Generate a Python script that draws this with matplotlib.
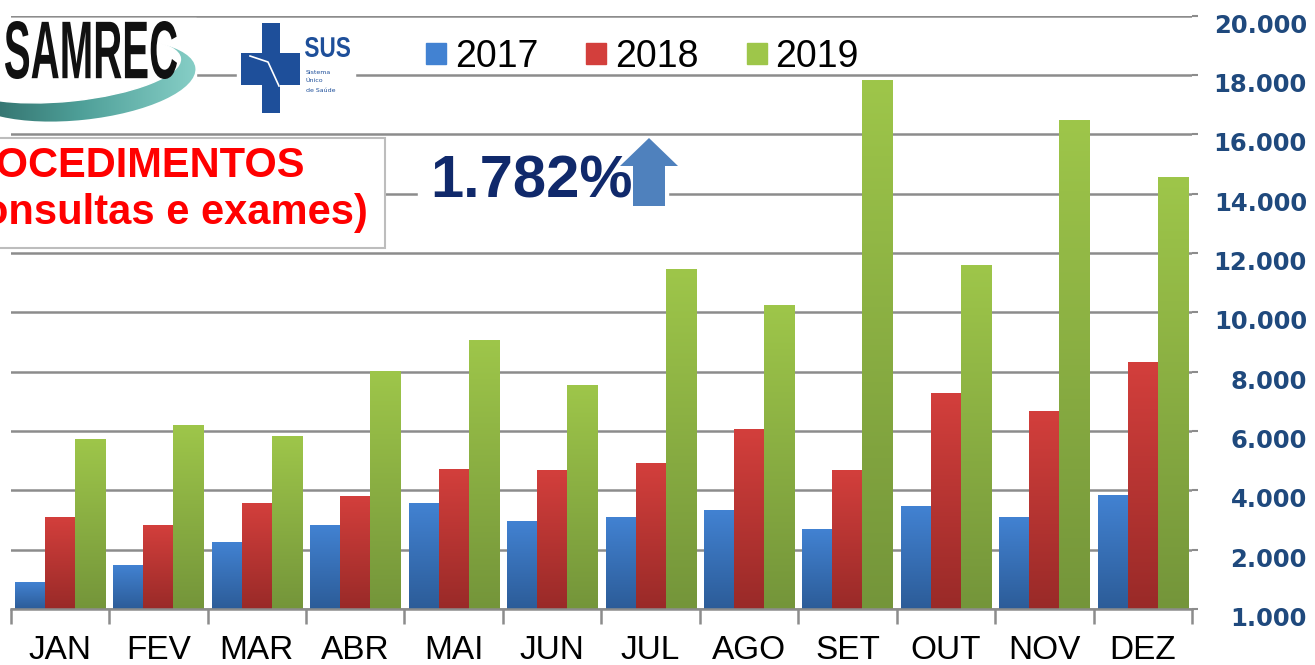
import numpy as np
import matplotlib.pyplot as plt
from matplotlib.colors import LinearSegmentedColormap
from matplotlib.patches import Rectangle, Polygon, Ellipse, PathPatch
from matplotlib.textpath import TextPath
from matplotlib.font_manager import FontProperties
from matplotlib.transforms import Affine2D, ScaledTranslation, blended_transform_factory

meses = ["JAN", "FEV", "MAR", "ABR", "MAI", "JUN", "JUL", "AGO", "SET", "OUT", "NOV", "DEZ"]
anos = ["2017", "2018", "2019"]
v2017 = [900, 1460, 2250, 2800, 3540, 2940, 3080, 3310, 2670, 3450, 3080, 3810]
v2018 = [3080, 2800, 3540, 3780, 4710, 4660, 4890, 6050, 4660, 7260, 6650, 8320]
v2019 = [5720, 6200, 5830, 7990, 9040, 7540, 11430, 10230, 17810, 11580, 16460, 14550]
y_ticks = [0, 2000, 4000, 6000, 8000, 10000, 12000, 14000, 16000, 18000, 20000]
y_labels = ["1.000", "2.000", "4.000", "6.000", "8.000", "10.000",
            "12.000", "14.000", "16.000", "18.000", "20.000"]

# cores (topo, base) do degradê de cada série
cores = [("#4282D2", "#2C5C98"), ("#D33F3C", "#992A28"), ("#9EC64A", "#74953A")]

W, H = 1315, 665
fig = plt.figure(figsize=(W / 100, H / 100), dpi=100)
ax = fig.add_axes([10.7 / W, 56 / H, 1181.3 / W, 593.3 / H])

x = np.arange(len(meses))
larg = 0.305
for k, serie in enumerate([v2017, v2018, v2019]):
    bars = ax.bar(x + (k - 1) * larg, serie, larg, color="none", zorder=2)
    cmap = LinearSegmentedColormap.from_list("g%d" % k, [cores[k][1], cores[k][0]])
    grad = np.linspace(0, 1, 256).reshape(-1, 1)
    for b in bars:
        x0, w, h = b.get_x(), b.get_width(), b.get_height()
        ax.imshow(grad, extent=[x0, x0 + w, 0, h], origin="lower", cmap=cmap,
                  aspect="auto", zorder=2)

ax.set_xlim(-0.5, 11.5)
ax.set_ylim(0, 20000)
ax.set_yticks(y_ticks)
ax.grid(axis="y", color="#8C8C8C", lw=1.8)
ax.set_axisbelow(True)
for s in ["top", "left", "right"]:
    ax.spines[s].set_visible(False)
ax.spines["bottom"].set_color("#8C8C8C")
ax.spines["bottom"].set_linewidth(1.8)
ax.tick_params(axis="y", left=False, right=True, labelleft=False, labelright=False,
               length=4, width=1.5, color="#8C8C8C")
ax.set_xticks(x)
ax.set_xticklabels([])
ax.tick_params(axis="x", which="major", length=0)
ax.set_xticks(np.arange(-0.5, 12, 1), minor=True)
ax.tick_params(axis="x", which="minor", length=11, width=1.8, color="#8C8C8C")

# rótulos do eixo x
tx = blended_transform_factory(ax.transData, fig.transFigure)
for i, m in enumerate(meses):
    ax.text(i, 1 - 659 / H, m, transform=tx, ha="center", va="baseline",
            fontsize=24, family="Liberation Sans", color="black")

# rótulos do eixo y (à direita)
ty = blended_transform_factory(ax.transAxes, ax.transData) + \
    ScaledTranslation(0, -10 / 100, fig.dpi_scale_trans)
for v, lab in zip(y_ticks, y_labels):
    ax.text((1307 - 10.7) / 1181.3, v, lab, transform=ty, ha="right", va="center",
            fontsize=17.5, fontweight="bold", family="DejaVu Sans", color="#1F497D",
            clip_on=False)

# legenda
handles = [Rectangle((0, 0), 1, 1, color=c[0]) for c in cores]
fig.legend(handles, anos, loc="center left", bbox_to_anchor=(426 / W, 1 - 57 / H),
           ncol=3, frameon=False, prop=FontProperties(family="Liberation Sans", size=27),
           handlelength=0.53, handleheight=0.48, handletextpad=0.24,
           columnspacing=1.28, borderpad=0, borderaxespad=0)

# camada de decoração em pixels
ov = fig.add_axes([0, 0, 1, 1], zorder=5)
ov.set_xlim(0, W)
ov.set_ylim(H, 0)
ov.axis("off")
ov.patch.set_alpha(0)


def texto_ajustado(s, x0, x1, ytop, ybot, cor, fam="Liberation Sans"):
    tp = TextPath((0, 0), s, size=100, prop=FontProperties(family=fam, weight="bold"))
    bb = tp.get_extents()
    sx = (x1 - x0) / bb.width
    sy = (ybot - ytop) / bb.height
    tr = Affine2D().translate(-bb.x0, -bb.y0).scale(sx, -sy).translate(x0, ybot)
    ov.add_patch(PathPatch(tp, transform=tr + ov.transData, color=cor, lw=0, zorder=3))


# logo SAMREC
ov.add_patch(Rectangle((0, 18), 196, 104, color="white", zorder=1))
aro = Ellipse((80, 80), 232, 80, angle=-6, transform=ov.transData)
grad_h = np.linspace(0, 1, 128).reshape(1, -1)
cm_teal = LinearSegmentedColormap.from_list("teal", ["#2C6663", "#4E9F98", "#86CEC6"])
img = ov.imshow(grad_h, extent=[-36, 196, 122, 38], cmap=cm_teal, aspect="auto", zorder=1.5)
img.set_clip_path(aro)
ov.add_patch(Ellipse((70, 70), 222, 62, angle=-6, color="white", zorder=1.6))
ov.set_xlim(0, W)
ov.set_ylim(H, 0)
texto_ajustado("SAMREC", 5, 177, 21, 79, "#111111")

# logo SUS
ov.add_patch(Rectangle((237, 20), 118, 98, color="white"))
ov.add_patch(Rectangle((262, 23), 18, 90, color="#1E4F9A", lw=0))
ov.add_patch(Rectangle((241, 53), 59, 32, color="#1E4F9A", lw=0))
ov.plot([250, 268, 279], [56, 62, 86], color="white", lw=1.2)
texto_ajustado("SUS", 305, 350, 37, 57, "#1E4F9A")
for yy, t in zip([72, 81, 90], ["Sistema", "Único", "de Saúde"]):
    ov.text(306, yy, t, fontsize=4.5, color="#1E4F9A", va="center")

# caixa de texto
ov.add_patch(Rectangle((-5, 137.7), 390, 110.3, facecolor="white",
                       edgecolor="#BDBDBD", lw=1.5))
ov.text(305, 177, "PROCEDIMENTOS", ha="right", va="baseline", fontsize=30,
        fontweight="bold", family="Liberation Sans", color="#FF0000")
ov.text(368, 224, "(consultas e exames)", ha="right", va="baseline", fontsize=30,
        fontweight="bold", family="Liberation Sans", color="#FF0000")

# percentual e seta
ov.add_patch(Rectangle((418, 150), 250, 52, color="white"))
ov.text(430, 197, "1.782%", ha="left", va="baseline", fontsize=43,
        fontweight="bold", family="Liberation Sans", color="#10296B")
ov.add_patch(Polygon([(649, 138), (678, 166), (665, 166), (665, 206), (633, 206),
                      (633, 166), (620, 166)], closed=True, color="#4F81BD", lw=0))

fig.savefig("out.png", dpi=100)
